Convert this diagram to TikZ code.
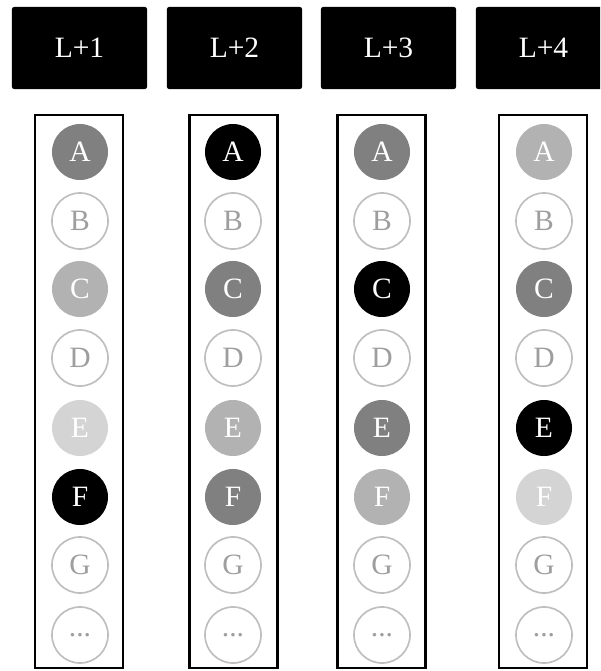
\documentclass[tikz,border=0pt]{standalone}
\usepackage{fontspec}
\setmainfont{Liberation Serif}
\usepackage{tikz}
\tikzset{
  header/.style={fill=black, rounded corners=1.5pt, minimum width=3.375cm, minimum height=2.05cm, text=white, font=\fontsize{21}{24}\selectfont},
  colbox/.style={draw, line width=2pt, minimum width=2.2cm, minimum height=13.825cm},
  tok/.style={circle, minimum size=1.4cm, inner sep=0pt, text=white, font=\fontsize{21}{24}\selectfont},
  tokhot/.style={tok, fill=black},
  tokdark/.style={tok, fill=black!50},
  tokmid/.style={tok, fill=black!30},
  toklight/.style={tok, fill=black!17},
  tokoff/.style={tok, draw=black!25, line width=1.2pt, text=black!38}
}
\begin{document}
\begin{tikzpicture}[x=0.025cm, y=-0.025cm]
  \path[use as bounding box, clip] (0,0) rectangle (600,671);
  % headers
  \node[header] (h1) at (79.5,48) {L+1};
  \node[header] (h2) at (234.5,48) {L+2};
  \node[header] (h3) at (388.5,48) {L+3};
  \node[header] (h4) at (543.5,48) {L+4};
  % columns
  \node[colbox] (col1) at (79,391.5) {};
  \node[colbox] (col2) at (233.5,391.5) {};
  \node[colbox] (col3) at (381.5,391.5) {};
  \node[colbox] (col4) at (543,391.5) {};
  % column L+1
  \node[tokdark]  (a1) at (80,152) {A};
  \node[tokoff]   (b1) at (80,221) {B};
  \node[tokmid]   (c1) at (80,289) {C};
  \node[tokoff]   (d1) at (80,358) {D};
  \node[toklight] (e1) at (80,428) {E};
  \node[tokhot]   (f1) at (80,497) {F};
  \node[tokoff]   (g1) at (80,565) {G};
  \node[tokoff]   (z1) at (80,635) {...};
  % column L+2
  \node[tokhot]   (a2) at (233,152) {A};
  \node[tokoff]   (b2) at (233,221) {B};
  \node[tokdark]  (c2) at (233,289) {C};
  \node[tokoff]   (d2) at (233,358) {D};
  \node[tokmid]   (e2) at (233,428) {E};
  \node[tokdark]  (f2) at (233,497) {F};
  \node[tokoff]   (g2) at (233,565) {G};
  \node[tokoff]   (z2) at (233,635) {...};
  % column L+3
  \node[tokdark]  (a3) at (382,152) {A};
  \node[tokoff]   (b3) at (382,221) {B};
  \node[tokhot]   (c3) at (382,289) {C};
  \node[tokoff]   (d3) at (382,358) {D};
  \node[tokdark]  (e3) at (382,428) {E};
  \node[tokmid]   (f3) at (382,497) {F};
  \node[tokoff]   (g3) at (382,565) {G};
  \node[tokoff]   (z3) at (382,635) {...};
  % column L+4
  \node[tokmid]   (a4) at (544,152) {A};
  \node[tokoff]   (b4) at (544,221) {B};
  \node[tokdark]  (c4) at (544,289) {C};
  \node[tokoff]   (d4) at (544,358) {D};
  \node[tokhot]   (e4) at (544,428) {E};
  \node[toklight] (f4) at (544,497) {F};
  \node[tokoff]   (g4) at (544,565) {G};
  \node[tokoff]   (z4) at (544,635) {...};
\end{tikzpicture}
\end{document}
